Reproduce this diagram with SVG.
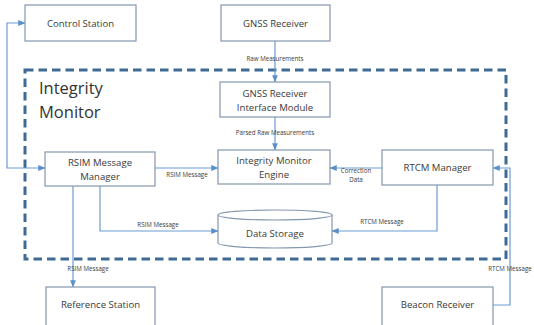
<svg xmlns="http://www.w3.org/2000/svg" width="534" height="325" viewBox="0 0 534 325">
  <style>
    .box { fill: #ffffff; stroke: #8497b0; stroke-width: 1.2; }
    .lbl { font-family: "Open Sans", "Liberation Sans", sans-serif; font-size: 9.6px; fill: #3a3a3a; text-anchor: middle; }
    .small { font-family: "Open Sans", "Liberation Sans", sans-serif; font-size: 6.2px; fill: #3a3a3a; text-anchor: middle; }
    .title { font-family: "Open Sans", "Liberation Sans", sans-serif; font-size: 16.5px; fill: #333333; }
    .wire { fill: none; stroke: #6b9bd1; stroke-width: 1.2; }
    .frame { fill: none; stroke: #3e6a94; stroke-width: 3; stroke-dasharray: 8.5 5; }
  </style>
  <defs>
    <marker id="arrow" viewBox="0 0 8 8" refX="7.5" refY="4" markerWidth="6" markerHeight="6" orient="auto-start-reverse">
      <path d="M0,0.8 L8,4 L0,7.2 z" fill="#5b8fc9"/>
    </marker>
  </defs>

  <rect width="534" height="325" fill="#ffffff"/>

  <!-- Integrity Monitor boundary -->
  <g id="integrity-monitor">
    <rect class="frame" x="25" y="70" width="481" height="189"/>
    <text class="title" x="39" y="94">Integrity</text>
    <text class="title" x="39" y="118">Monitor</text>
  </g>

  <g id="connectors">
    <!-- Control Station <-> RSIM Message Manager -->
    <path class="wire" d="M25,23 H7 V168 H45" marker-start="url(#arrow)" marker-end="url(#arrow)"/>
    <!-- GNSS Receiver -> Interface Module -->
    <path class="wire" d="M275,41 V82" marker-end="url(#arrow)"/>
    <text class="small" x="275" y="61">Raw Measurements</text>
    <!-- Interface Module -> Engine -->
    <path class="wire" d="M275,117 V150" marker-end="url(#arrow)"/>
    <text class="small" x="275" y="135">Parsed Raw Measurements</text>
    <!-- RSIM -> Engine -->
    <path class="wire" d="M155,168 H218" marker-end="url(#arrow)"/>
    <text class="small" x="187" y="177">RSIM Message</text>
    <!-- RTCM -> Engine -->
    <path class="wire" d="M382,168 H330" marker-end="url(#arrow)"/>
    <text class="small" x="356" y="173">Correction</text>
    <text class="small" x="356" y="182">Data</text>
    <!-- RSIM -> Data Storage -->
    <path class="wire" d="M100,186 V231 H218" marker-end="url(#arrow)"/>
    <text class="small" x="158" y="227">RSIM Message</text>
    <!-- RTCM -> Data Storage -->
    <path class="wire" d="M437,185 V231 H332" marker-end="url(#arrow)"/>
    <text class="small" x="382" y="224">RTCM Message</text>
    <!-- RSIM -> Reference Station -->
    <path class="wire" d="M73,186 V287" marker-end="url(#arrow)"/>
    <text class="small" x="88" y="271">RSIM Message</text>
    <!-- Beacon Receiver -> RTCM Manager -->
    <path class="wire" d="M493,305 H510 V168 H493" marker-end="url(#arrow)"/>
    <text class="small" x="510" y="271">RTCM Message</text>
  </g>

  <g id="control-station">
    <rect class="box" x="25" y="5" width="111" height="36"/>
    <text class="lbl" x="80.5" y="26.5">Control Station</text>
  </g>

  <g id="gnss-receiver">
    <rect class="box" x="221" y="5" width="109" height="36"/>
    <text class="lbl" x="275.5" y="26.5">GNSS Receiver</text>
  </g>

  <g id="gnss-interface-module">
    <rect class="box" x="220" y="82" width="110" height="35"/>
    <text class="lbl" x="275" y="97">GNSS Receiver</text>
    <text class="lbl" x="275" y="110.5">Interface Module</text>
  </g>

  <g id="rsim-message-manager">
    <rect class="box" x="45" y="152" width="110" height="34"/>
    <text class="lbl" x="100" y="166">RSIM Message</text>
    <text class="lbl" x="100" y="179.5">Manager</text>
  </g>

  <g id="integrity-monitor-engine">
    <rect class="box" x="218" y="150" width="112" height="34"/>
    <text class="lbl" x="274" y="164">Integrity Monitor</text>
    <text class="lbl" x="274" y="177.5">Engine</text>
  </g>

  <g id="rtcm-manager">
    <rect class="box" x="382" y="150" width="111" height="35"/>
    <text class="lbl" x="437.5" y="170.5">RTCM Manager</text>
  </g>

  <g id="data-storage">
    <path class="box" d="M218,215 V243 A57,5 0 0 0 332,243 V215"/>
    <ellipse class="box" cx="275" cy="215" rx="57" ry="5"/>
    <text class="lbl" x="275" y="236.5">Data Storage</text>
  </g>

  <g id="reference-station">
    <rect class="box" x="46" y="287" width="109" height="45"/>
    <text class="lbl" x="100.5" y="308">Reference Station</text>
  </g>

  <g id="beacon-receiver">
    <rect class="box" x="382" y="287" width="111" height="45"/>
    <text class="lbl" x="437.5" y="308">Beacon Receiver</text>
  </g>
</svg>
